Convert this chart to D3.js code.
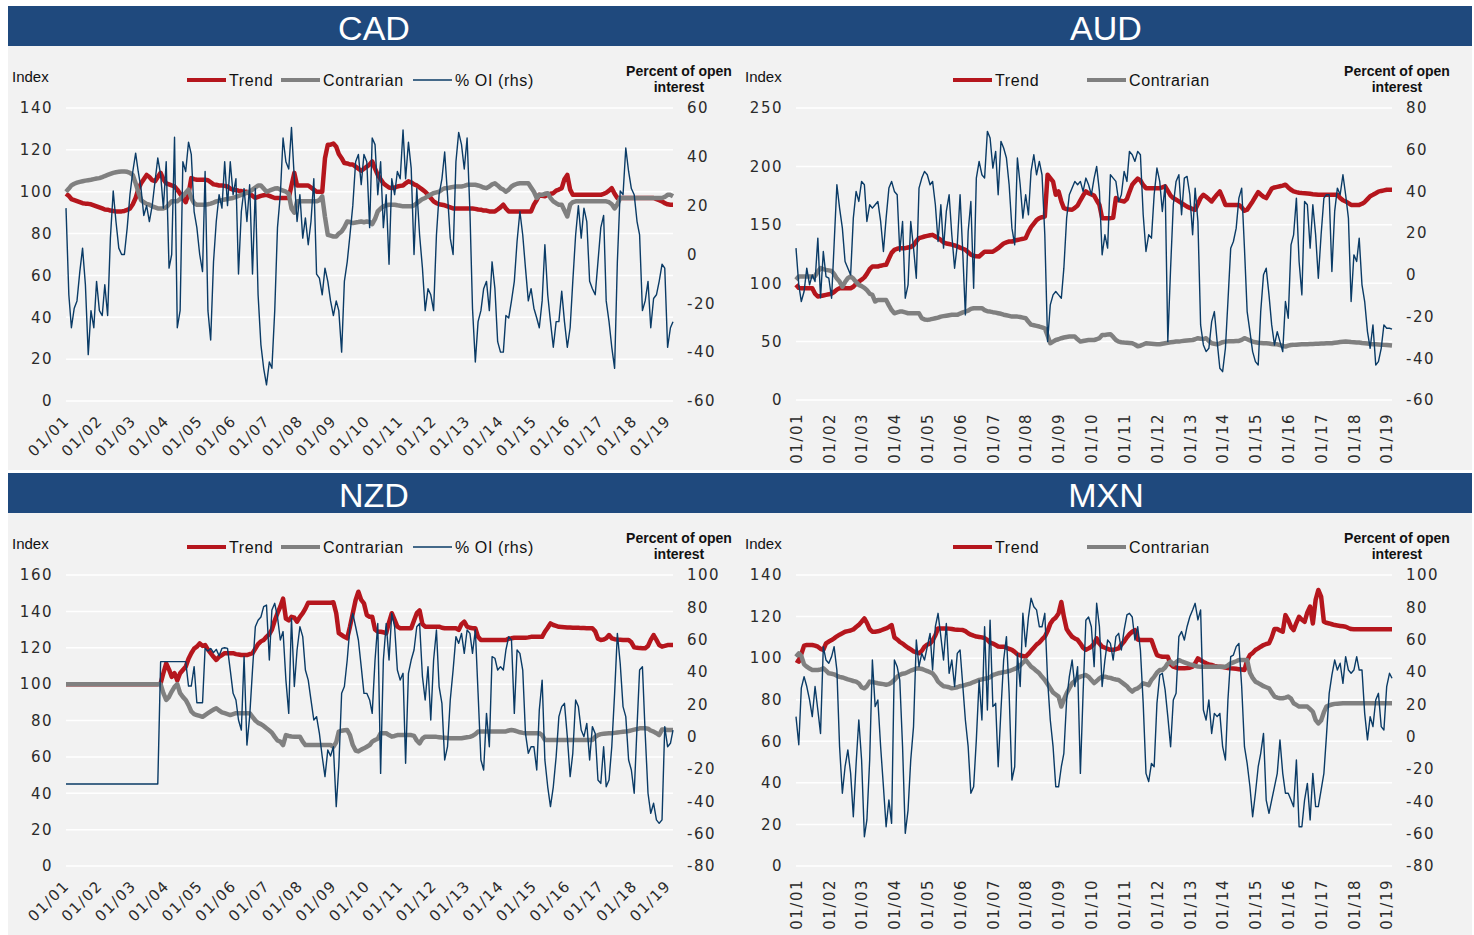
<!DOCTYPE html>
<html>
<head>
<meta charset="utf-8">
<script src="https://cdn.jsdelivr.net/npm/d3@7"></script>
<style>
  html, body { margin: 0; padding: 0; background: #ffffff; }
  svg { display: block; }
  text { font-family: "Liberation Sans", Arial, sans-serif; }
  .tick-label { font-family: "DejaVu Sans", sans-serif; font-size: 15px; fill: #2b2b2b; letter-spacing: 1.5px; }
</style>
</head>
<body>
<svg id="chart" width="1474" height="935"></svg>
<script>
// Monthly observations, January 2001 to March 2019
const START = new Date(2001, 0, 1);
const END = new Date(2019, 2, 1);
const tickYears = [2001, 2002, 2003, 2004, 2005, 2006, 2007, 2008, 2009, 2010,
                   2011, 2012, 2013, 2014, 2015, 2016, 2017, 2018, 2019];

const seriesNames = ["Trend", "Contrarian", "% OI (rhs)"];

// ---------------- CAD ----------------
const cadTrend = [
  99, 98, 96.5, 96, 95.5, 95, 94.5, 94.3, 94.2, 94, 93.5, 93,
  92.5, 92, 91.5, 91.4, 91, 90.8, 90.6, 90.6, 90.6, 90.8, 91.3, 92,
  94, 97, 101, 104, 106, 108, 107, 105.5, 105, 107, 109, 106,
  104, 103.5, 103, 102.5, 101, 99, 97, 95, 99, 106.5, 106, 105.7,
  105.7, 105.7, 105.7, 105.5, 104.5, 103.5, 103.3, 103, 103, 102.8, 102.5, 101.5,
  101, 100.8, 100.5, 100.3, 100, 100, 99, 98, 97, 97.5, 98, 98.3,
  98.5, 98, 97.5, 97, 97, 97, 97, 97, 97, 103, 109, 103,
  103, 103, 103, 103, 102, 101, 100, 100, 100, 116, 122.5, 122.5,
  123, 121.5, 118, 116, 113.7, 113.5, 113, 113, 112, 111, 110, 111,
  112, 113, 114.5, 111, 108, 106, 104, 103, 102, 101.7, 102, 102.5,
  102.8, 103, 104, 105, 104.5, 103.5, 103, 102, 101, 100, 98.5, 97,
  95.4, 94.5, 94, 93.8, 93.5, 93, 92.5, 92, 92, 92, 92, 92,
  92, 92, 92, 91.8, 91.5, 91.4, 91, 91, 90.6, 90.6, 90.6, 91.5,
  92.5, 93.8, 92, 90.6, 90.6, 90.6, 90.6, 90.6, 90.6, 90.6, 90.6, 90.6,
  93.8, 96, 98.5, 98, 97.8, 98.5, 99, 99.3, 100.5, 101, 101.7, 106,
  108, 101, 98.5, 98.5, 98.5, 98.5, 98.5, 98.5, 98.5, 98.5, 98.5, 98.5,
  98.5, 99, 99.5, 100.5, 101.7, 99, 97, 97, 97, 97, 97, 97,
  97, 97, 97, 97, 97, 97, 97, 97, 96.5, 96, 95.4, 94.5,
  94, 93.8, 93.8
];
const cadContrarian = [
  100, 101.5, 103, 103.8, 104.3, 104.7, 105, 105.3, 105.5, 105.7, 106, 106.3,
  106.5, 107, 107.5, 108, 108.5, 109, 109.3, 109.5, 109.7, 109.7, 109.5, 109,
  108, 104, 100, 96, 95, 94.2, 93.8, 93, 92.5, 92, 92, 92,
  92.5, 94, 95.4, 95.4, 95.4, 96.5, 98, 99.5, 101, 97, 94.5, 93.8,
  93.8, 93.8, 93.8, 94, 94.3, 94.8, 95.4, 95.7, 96, 96.3, 96.5, 96.8,
  97, 97.5, 98, 98.5, 99, 99.5, 100, 101, 102, 103, 103, 101.5,
  100, 100.5, 101, 101.5, 101.7, 101, 100.5, 100, 99, 92, 90, 95.4,
  95.4, 95.4, 95.4, 95.4, 95.4, 95.4, 95.4, 96, 97.8, 88, 79.4, 79,
  78.6, 78.6, 80, 81, 83, 85.8, 85.5, 85, 85.3, 85.5, 85.8, 85.4,
  85.8, 85.5, 84.5, 87, 90.6, 92, 93, 93.5, 93.8, 93.8, 93.8, 93.5,
  93.3, 93, 93, 93, 93, 93.5, 94.5, 95.5, 96.5, 97, 98, 98.7,
  99.3, 99.7, 100, 101, 101.7, 101.7, 102, 102.3, 102.5, 102.5, 102.5, 102.8,
  103.3, 103.3, 103.3, 103.3, 103, 102.5, 102, 101.7, 102.5, 103.5, 104, 103,
  101.7, 101, 100, 101, 102.5, 103.3, 103.8, 104, 104, 104, 104, 102,
  100, 97, 98.5, 98.5, 99, 99.3, 97, 95.4, 94.5, 93.8, 93.8, 91,
  88.2, 93.8, 95, 95.4, 95.4, 95.4, 95.4, 95.4, 95.4, 95.4, 95.4, 95.4,
  95.4, 95.4, 95.4, 95, 94, 92, 94, 97, 97, 97, 97, 97,
  97, 97, 97, 97, 97, 97, 97, 97, 97, 97, 97, 97.5,
  98.5, 98.5, 97.8
];
const cadOI = [
  19, -16.5, -30, -22, -19, -7, 2.6, -12.4, -41, -23, -30, -11,
  -23, -25, -12.4, -25, 6.7, 26, 13.5, 2.6, 0, 0, 11, 24.5,
  34, 41.5, 34, 27, 16, 20, 13.5, 20, 30, 39.5, 32.7, 19,
  38, -5.6, 0, 48, -30, -23, 38, 34, 46, 41, 17.6, 11,
  0, -7, 34, -23, -35, -3, 13.5, 24.5, 19, 38, 20, 38,
  24.5, 31, -8, 17.6, 27, 13.5, 28.6, -8, 27, -16.5, -37, -46.6,
  -53.4, -44, -46.6, -23, 11, 24.5, 47.7, 38, 35, 52, 31, 13.5,
  24.5, 6.7, 15, 4, 13.5, 31, -8, -9.7, -16.5, -5.6, -11, -19,
  -25, -19, -23, -40, -11, -3, 8, 20, 38, 41, 28.6, 41,
  38, 11, 47.7, 45, 24.5, 38, 11, 24.5, -4, 31, 24.5, 34,
  31, 51, 31, 46, 35.4, 0, 27, 8, -5.6, -23, -14, -16.5,
  -23, 8, 24.5, 31, 42, 24.5, 6.7, 0, 38, 50, 45, 35,
  47.7, 17.6, -22, -44, -27.5, -23, -14, -11, -23, -3, -14, -35.7,
  -40, -40, -25, -26, -19, -11, 5.3, 17.6, 8, -5.6, -19, -14,
  -22, -26, -30, -19, 4, -16.5, -27.5, -38, -27.5, -27.5, -15, -27.5,
  -38, -30, -11, 8, 20, 6.7, 19, 13.5, -11, -14, -16.5, -3,
  11, 16, -19, -27.5, -38, -46.6, -3, 26, 24.5, 43.6, 34, 27,
  24.5, 13.5, 8, -23, -19, -11, -30, -18, -16.5, -11, -4, -5.6,
  -38, -30, -27.5
];

// ---------------- AUD ----------------
const audTrend = [
  98.6, 96, 95.7, 95.7, 95.7, 95.7, 95.7, 91, 88.6, 89, 89.5, 90,
  90.5, 91.2, 92.5, 94.5, 95.7, 95.7, 95.7, 95.7, 95.7, 97, 99.5, 101.4,
  103, 105, 108, 112, 114.3, 114.3, 114.3, 115, 115.5, 115.7, 121, 126,
  128.5, 129.5, 130, 130, 130, 130.5, 131, 132.5, 136, 138.6, 139.3, 140,
  140.5, 141, 141.4, 140, 138.6, 137, 135, 134, 133.5, 133, 132.3, 131.5,
  130.5, 129.5, 128.6, 126.5, 124.5, 123.5, 123, 122.9, 125, 127, 127, 127,
  127, 128.5, 130, 132, 134, 135, 135.7, 135.7, 136.5, 137, 137.5, 138,
  138.6, 144, 148, 151, 154, 155.7, 156.5, 157, 192.9, 190, 187, 175.7,
  178.6, 170, 164.3, 163.5, 163, 162.9, 164.5, 166.5, 171, 175, 178.6, 177,
  176, 175, 171, 167, 155.7, 155.7, 155.7, 155.7, 156, 172.9, 171, 170.5,
  170, 172, 178, 184.3, 187, 189.5, 188, 184, 181.4, 181.4, 181.4, 181.4,
  181.4, 181.4, 182, 182.9, 179, 175, 172.9, 171.5, 170, 168.5, 167, 165.5,
  164.5, 163.5, 162.9, 168, 173, 175.7, 174, 172, 170, 173, 176, 178.6,
  173, 167, 167, 167, 167, 167, 167, 165, 162, 163, 166.5, 170,
  174, 178, 176, 174, 172.9, 177, 181, 182, 182.5, 183, 183.5, 184.3,
  182, 180, 178.6, 178, 177.5, 177.2, 177, 176.8, 176.5, 176.2, 176, 175.7,
  175.7, 175.7, 175.7, 175.7, 175.7, 175.7, 175.7, 173, 171, 170, 168.5, 167,
  167, 167, 167, 168, 169.5, 172, 174.5, 175.7, 177, 178.4, 179, 179.5,
  180, 180, 180
];
const audContrarian = [
  102.9, 105.7, 105.7, 105.7, 105.7, 105.7, 105.7, 106, 110, 112.9, 112, 111.4,
  111, 110.5, 108, 104, 101.4, 97, 101, 104.3, 105.7, 104, 101, 98.6,
  97.5, 96, 94, 91, 90, 84.3, 85.7, 85.7, 85.7, 85.7, 81, 77,
  74.3, 75, 75.7, 75.7, 75, 74.3, 74.3, 74.3, 74.3, 74.3, 70, 69,
  68.6, 69, 69.5, 70, 70.5, 71.4, 71.8, 72.2, 72.6, 72.9, 72.9, 72.9,
  74, 75, 75.7, 76.5, 78, 78.6, 78.6, 78.6, 78.6, 77, 76, 75.7,
  75.2, 74.8, 74.3, 73.8, 73, 72.5, 72, 71.4, 71.4, 71.4, 71, 70.5,
  70, 67, 64.5, 64, 63.5, 62.9, 62.2, 61.4, 55, 48.6, 50, 51.4,
  52, 52.9, 53.5, 54, 54.3, 54.3, 54.3, 52, 50, 50.5, 51, 51.4,
  51.4, 51.4, 52, 53, 55.7, 55.7, 56, 56.3, 54, 51.4, 50, 49.5,
  49.2, 49, 48.8, 48.6, 47.5, 46, 46.5, 47.5, 48.6, 48.4, 48.2, 48,
  47.8, 47.7, 48.2, 48.6, 49, 49.4, 49.7, 50, 50, 50.4, 50.7, 51,
  51.2, 51.4, 52, 52.9, 52.5, 52.2, 52.9, 50.5, 48.6, 48.2, 47.7, 48.5,
  49.5, 50, 50.2, 50.3, 50.4, 50.5, 50.6, 51.5, 52.9, 52, 51, 50,
  49.5, 49, 48.8, 48.6, 48.5, 48.3, 48, 47.8, 47.7, 47, 46.3, 45.7,
  46.5, 47.1, 47.2, 47.4, 47.6, 47.7, 47.7, 47.8, 47.9, 48, 48.1, 48.2,
  48.3, 48.4, 48.5, 48.6, 48.6, 49, 49.3, 49.6, 49.8, 50, 49.8, 49.6,
  49.5, 49.3, 49.2, 48.8, 48.6, 48.3, 48, 47.8, 47.7, 47.6, 47.4, 47.2,
  47, 46.8, 46.6
];
const audOI = [
  12.8, -4.8, -12.8, -8, 3.2, -4.8, 0, -3.2, 17.6, -11, 11.2, -0.8,
  -1.6, -11.2, 14.4, 43.2, 32, 22.4, 6.4, 3.2, 0, 27.2, 40, 35.2,
  44.8, 43.2, 25.6, 33.6, 32, 33.6, 35.2, 25.6, 11.2, 27.2, 41.6, 44.8,
  40, 38.4, 11.2, 25.6, -11.2, -4.8, 25.6, 12.8, -1.6, 41.6, 46.4, 49.6,
  48, 43.2, 44.8, 33.6, 16, 33.6, 12.8, 30.4, 38.4, 19.2, 3.2, 14.4,
  38.4, 9.6, -19.2, 20.8, 35.2, -6.4, 46.4, 54.4, 48, 46.4, 68.8, 65.6,
  51.2, 59.2, 38.4, 64, 60.8, 56, 43.2, 22.4, 14.4, 56, 43.2, 27.2,
  38.4, 28.8, 49.6, 57.6, 48, 54.4, 48, 19.2, -32, -14.4, -9.6, -8,
  -9.6, -11.2, 3.2, 27.2, 38.4, 41.6, 44.8, 43.2, 44.8, 40, 46.4, 43.2,
  38.4, 46.4, 52, 40, 9.6, 19.2, 12.8, 48, 46.4, 44.8, 35.2, 38.4,
  49.6, 44.8, 59.2, 57.6, 54.4, 59.2, 57.6, 28.8, 11.2, 19.2, 17.6, 38.4,
  51.2, 44.8, 30.4, 43.2, -32, 3.2, 33.6, 44.8, 48, 28.8, 46.4, 47.2,
  38.4, 19.2, 41.6, 25.6, -24, -33.6, -36.8, -35.2, -22.4, -17.6, -32, -44.8,
  -46.4, -35.2, -12.8, 12.8, 16, 22.4, 36.8, 41.6, 12.8, -17.6, -27.2, -36.8,
  -41.6, -43.2, -17.6, 0, 3.2, -9.6, -24, -33.6, -27.2, -32, -36.8, -12.8,
  -20.8, 14.4, 19.2, 36.8, 6.4, -9.6, 35.2, 33.6, 12.8, 33.6, 19.2, -1.6,
  19.2, 36.8, 38.4, 38.4, 1.6, 30.4, 41.6, 38.4, 48, 38.4, 27.2, -12.8,
  9.6, 6.4, 17.6, -4.8, -12.8, -27.2, -35.2, -24, -43.2, -41.6, -35.2, -24,
  -25.6, -25.6, -26
];

// ---------------- NZD ----------------
const nzdTrend = [
  100, 100, 100, 100, 100, 100, 100, 100, 100, 100, 100, 100,
  100, 100, 100, 100, 100, 100, 100, 100, 100, 100, 100, 100,
  100, 100, 100, 100, 100, 100, 100, 100, 100, 100, 100.4, 106,
  111.4, 108, 104, 106, 102, 106, 107.8, 109.6, 114, 117, 119.5, 120.6,
  122.4, 121, 121.5, 119, 117, 115, 113.3, 115, 116, 117, 117, 117,
  117, 116.5, 116.3, 116, 116, 116, 116.5, 117, 119.5, 122, 123.5, 124.3,
  126, 127.5, 130, 135, 139, 142.6, 147, 136, 135, 137, 136.5, 134.3,
  137, 139, 141.5, 144.8, 144.8, 144.8, 144.8, 144.8, 144.8, 144.8, 144.8, 144.8,
  145, 139, 128, 127, 126, 125.2, 131.6, 139, 146.3, 150.8, 146.3, 144.4,
  138, 137, 137, 130, 128.8, 128.8, 128.5, 128, 134, 139, 135.3, 131.6,
  130.7, 130.7, 130.7, 130.7, 130.7, 135, 139, 140.5, 133, 131.6, 131.6, 131.6,
  131.6, 131.6, 131.6, 131, 130.7, 130.7, 130.7, 130.7, 130.7, 129.8, 133, 134.3,
  131.6, 131, 130.7, 130.7, 126, 124.3, 124.3, 124.3, 124.3, 124.3, 124.3, 124.3,
  124.3, 124.3, 124.3, 125, 125.2, 125.5, 125.5, 125.5, 125.5, 125.5, 125.7, 126,
  126, 126, 126, 126, 128.8, 131, 133.4, 132.5, 132, 131.5, 131.4, 131.3,
  131.2, 131.1, 131, 131, 131, 130.8, 130.8, 130.7, 130.7, 130.7, 129, 125,
  124.3, 124.5, 125.2, 127, 125.2, 124.7, 124.5, 124.4, 124.3, 124.3, 124.3, 123,
  120.2, 120, 119.8, 119.7, 119.7, 121, 124.3, 127, 124.3, 121.5, 120.6, 121,
  121.5, 121.5, 121.5
];
const nzdContrarian = [
  100, 100, 100, 100, 100, 100, 100, 100, 100, 100, 100, 100,
  100, 100, 100, 100, 100, 100, 100, 100, 100, 100, 100, 100,
  100, 100, 100, 100, 100, 100, 100, 100, 100, 100, 100, 95,
  91.3, 93, 95.9, 98.5, 100, 95, 93, 91.3, 88.5, 85, 83.5, 83,
  82.5, 82, 83, 84, 85, 86, 86.7, 85.5, 84.5, 84, 83.5, 83,
  83.5, 84, 84, 84, 84, 84, 84, 82, 80, 78.7, 78, 77,
  75.7, 74.5, 73.3, 71, 69, 68.4, 66.5, 72, 71.5, 71.2, 71.1, 71.1,
  71.1, 68.4, 66.5, 66.5, 66.5, 66.5, 66.5, 66.5, 66.5, 66.5, 66.5, 66.5,
  65.6, 68, 73.9, 74.4, 74.6, 74.8, 72, 66.5, 63.5, 63, 64, 64.7,
  65.6, 66.5, 68.4, 69.3, 70, 73, 73, 73, 72, 71.1, 71.5, 72,
  72, 72, 72, 72, 72, 71.5, 69, 67.4, 70, 71.1, 71, 71,
  71, 71, 70.8, 70.6, 70.5, 70.4, 70.3, 70.2, 70.2, 70.2, 70.2, 70.5,
  70.8, 71, 71.5, 72.5, 73.9, 73.9, 73.9, 73.9, 73.9, 73.9, 73.9, 73.9,
  73.9, 73.9, 74, 74.5, 74.8, 74.5, 74, 73.5, 73.2, 73, 73, 73,
  73, 73, 73, 72, 69.3, 69.3, 69.3, 69.3, 69.3, 69.3, 69.3, 69.3,
  69.3, 69.3, 69.3, 69.3, 69.3, 69.3, 69.3, 69.3, 69.3, 69.3, 71, 72,
  72.5, 72.7, 72.9, 73, 73, 73.2, 73.4, 73.6, 73.8, 73.9, 74.2, 74.6,
  75, 75.3, 75.7, 75.7, 75.7, 75.5, 74.5, 73.9, 73, 72, 75, 75,
  74.8, 74.8, 74.8
];
const nzdOI = [
  -29.3, -29.3, -29.3, -29.3, -29.3, -29.3, -29.3, -29.3, -29.3, -29.3, -29.3, -29.3,
  -29.3, -29.3, -29.3, -29.3, -29.3, -29.3, -29.3, -29.3, -29.3, -29.3, -29.3, -29.3,
  -29.3, -29.3, -29.3, -29.3, -29.3, -29.3, -29.3, -29.3, -29.3, -29.3, 46.4, 46.4,
  46.4, 46.4, 46.4, 46.4, 46.4, 46.4, 46.4, 46.4, 31.3, 31.3, 43.3, 21,
  21, 21, 54.6, 53, 54.6, 52, 54, 50, 54.6, 55, 54.6, 41.2,
  26.8, 22.7, 10.3, 4.1, 49.5, -5.2, 12.4, 41.2, 68, 72, 74, 80.4,
  81.4, 47.4, 78.4, 82.5, 74, 59.8, 65, 35, 14.4, 73.2, 31, 53.6,
  68, 61.9, 41.2, 35, 22.7, 10.3, 12.4, 2, -12.4, -24.7, -8.2, -12,
  -6.2, -43.3, -18.6, 26.8, 31, 47.4, 68, 76.3, 68, 59.8, 43.3, 26.8,
  26.8, 22.7, 14.4, 47.4, 70, -22.7, 47.4, 70, 47.4, 76.3, 68, 41.2,
  35, 39.2, -16.5, 39.2, 47.4, 53.6, 68, 70, 37.1, 22.7, 43.3, 10.3,
  47.4, 66, 31, 20.6, -14.4, -6.2, 22.7, 41.2, 61.9, 57.7, 63.9, 51.5,
  66, 63.9, 51.5, 66, 26.8, -14.4, -20.6, 14.4, -6.2, 49.5, 48.5, 41.2,
  43.3, 41.2, 53.6, 61.9, 59.8, 14.4, 53.6, 51.5, 41.2, 2, -10.3, -6.2,
  -6.2, -20.6, 16.5, 35, -14.4, -31, -43.3, -31, -12.4, 12.4, 18.6, 20.6,
  0, -24.7, -10.3, 22.7, 18.6, 4.1, 0, 8.2, -14.4, 6.2, 2, -26.8,
  -28.9, -6.2, -31, -26.8, -6.2, 26.8, 63.9, 45.4, 18.6, 12.4, -14.4, -20.6,
  -35, 6.2, 41.2, 43.3, 2, -35, -47.4, -41.2, -51.5, -53.6, -51.5, 6.2,
  -6.2, -4.1, 4.1
];

// ---------------- MXN ----------------
const mxnTrend = [
  99.1, 98.3, 102, 106, 106.3, 106.3, 106.3, 106, 105.5, 104.5, 104, 107.1,
  108, 108.7, 109.5, 110.5, 111.3, 112, 112.7, 113, 113.3, 113.8, 115, 116,
  117.5, 119.1, 117, 114, 112.7, 112.7, 112.9, 113.3, 113.8, 114.3, 115, 115.9,
  110, 109, 107.8, 107, 106, 105, 104.2, 103.3, 102.8, 102.4, 103.5, 105.5,
  106.5, 107, 108.5, 111, 114.3, 114.3, 114.3, 114.3, 114.2, 114, 113.8, 113.7,
  113.6, 113.5, 113, 112, 111.3, 110.8, 110.4, 110.2, 110, 109.6, 108.8, 107.5,
  107, 106.3, 105.6, 105.5, 105.5, 105, 104.5, 104, 103, 101.8, 101.4, 101,
  100.7, 102, 103.5, 105, 106.5, 107.5, 109, 110.3, 113, 116.5, 118.5, 119.5,
  121.5, 127, 120, 114, 112, 110.3, 109.5, 108.8, 107, 105, 104, 104.7,
  105.5, 107, 109.5, 107, 105.5, 105, 104.5, 104, 104, 104.3, 104.7, 106.5,
  108, 110, 111.5, 112.7, 113.5, 109, 108.7, 108.7, 108.7, 108.7, 108.7, 105,
  101.5, 101, 100.7, 100.7, 100.7, 97, 95.9, 95.5, 95.1, 95.1, 95.1, 95.2,
  95.4, 95.9, 97.5, 99.9, 99, 98.2, 97.5, 97, 96.7, 96.3, 96, 95.9,
  95.7, 95.5, 95.3, 95.1, 95, 94.9, 94.7, 94.5, 94.3, 99, 101.5, 102.5,
  103.9, 104.7, 105.5, 106.3, 106.8, 107.1, 110, 114, 114, 113.3, 112.7, 120.7,
  118.3, 115, 113.5, 117, 119.9, 118.5, 117.5, 122, 124.8, 116.7, 128, 132.8,
  129.6, 117.5, 117, 116.7, 116.3, 115.9, 115.7, 115.5, 115.3, 115.1, 114.5, 114,
  113.9, 113.9, 113.9, 113.9, 113.9, 113.9, 113.9, 113.9, 113.9, 113.9, 113.9, 113.9,
  113.9, 113.9, 113.9
];
const mxnContrarian = [
  100.7, 102.3, 101, 97, 95.9, 95, 94.3, 94.3, 94.3, 94.5, 95.1, 94,
  92.7, 92.5, 92.2, 91.5, 91, 90.7, 90.3, 89.8, 89.4, 89, 88.7, 87.9,
  86, 85.5, 86.5, 88.7, 88.5, 88.2, 87.9, 87.7, 87.5, 87.2, 87.5, 88.3,
  89.5, 91, 92, 92.5, 92.7, 93.3, 94, 94.5, 95, 95.1, 94.8, 94.3,
  93.8, 93.2, 92.7, 91, 88.7, 87.5, 86.5, 86.3, 86, 85.5, 85.7, 86,
  86.5, 86.8, 87.1, 87.5, 87.9, 88.5, 89, 89.5, 89.8, 90.1, 90.3, 90.8,
  91.9, 92.3, 92.7, 93, 93.3, 93.5, 93.8, 94.3, 94.8, 95.5, 96.5, 97.8,
  99.1, 97.5, 95.9, 95, 93.8, 92.7, 91, 89.5, 87.5, 85.5, 83.5, 82.5,
  81.5, 76.7, 80, 83.1, 85.5, 87.9, 89, 90.5, 91.1, 91.5, 91.9, 91,
  89.5, 88, 89, 90.3, 91.1, 91.1, 90.7, 90.5, 90, 89.7, 89.5, 88.5,
  87.5, 86.5, 85, 83.9, 85, 85.5, 86.5, 87.9, 87.5, 87, 89.5, 91,
  93, 94.3, 94.3, 95.5, 97.5, 98.3, 97, 98, 99.1, 98.5, 98, 97.5,
  97, 96.7, 96.3, 96, 95.9, 95.9, 95.9, 95.9, 95.9, 95.9, 95.9, 95.9,
  95.9, 95.9, 96.5, 97.5, 98, 98.5, 99.1, 99.1, 99.1, 99.1, 93, 90.5,
  88.7, 88, 87.3, 86.5, 86, 85.5, 83.5, 81.5, 81, 80.7, 80.7, 81,
  81.5, 80.5, 78.3, 77.5, 76.7, 76.7, 76.7, 76.7, 75.5, 74.2, 70.2, 68.6,
  70, 74, 76.7, 77.3, 77.7, 78, 78.1, 78.2, 78.3, 78.3, 78.3, 78.3,
  78.3, 78.3, 78.3, 78.3, 78.3, 78.3, 78.3, 78.3, 78.3, 78.3, 78.3, 78.3,
  78.3, 78.3, 78.3
];
const mxnOI = [
  12.4, -5, 30, 37.1, 31, 22.7, 12.4, 31, 16.5, 2, 55.7, 47.4,
  45.4, 49.5, 55.7, 41.2, -6.2, -35, -18.6, -8.2, -22.7, -49.5, -16.7, 10.3,
  -14.4, -61.9, -51.5, -14.4, 47.4, 18.6, 22.7, -6.2, -31, -55.7, -39.2, -53.6,
  47.4, 43.3, 35, -6.2, -59.8, -45.4, -14.4, 6.2, 59.8, 43.3, 51.5, 47.4,
  55.7, 63.9, 41.2, 68, 76.3, 61.9, 47.4, 70, 39.2, 47.4, 31, 51.5,
  53.6, 31, 10.3, -6.2, -35, -31, -2, 35, 10.3, 68, 16.5, 72,
  18.6, 20.6, -18.6, 16.5, 47.4, 61.9, 26.8, -26.8, -18.6, 51.5, 31, 76.3,
  55.7, 74, 85.6, 80.4, 78.4, 68, 68, 76.3, 35, 10.3, -6.2, -31,
  -31, -18.6, -10.3, 22.7, 37.1, 47.4, 31, 43.3, -22.7, 26.8, 72, 74,
  68, 43.3, 82.5, 68, 31, 47.4, 59.8, 57.7, 47.4, 61.9, 63.9, 53.6,
  66, 75.3, 76.3, 74, 59.8, 68, 53.6, 20.6, -22.7, -27.8, -16.5, -18.6,
  20.6, 38.1, 39.2, 28.9, 12.4, -6.2, 22.7, 26.8, 61.9, 65, 59.8, 68,
  74.2, 78.4, 82.5, 72.2, 78.4, 16.5, 10.3, 22.7, 2, 14.4, 12.4, 14.4,
  -6.2, -14.4, 22.7, 49.5, 50.5, 55.7, 57.7, 31, -6.2, -16.5, -31, -49.5,
  -35, -18.6, -10.3, 2, -39.2, -47.4, -39.2, -31, -22.7, -2, -22.7, -35,
  -35, -39.2, -43.3, -14.4, -55.7, -55.7, -39.2, -28.9, -51.5, -22.7, -43.3, -43.3,
  -33, -22.7, 0, 26.8, 38.1, 47.4, 41.2, 45.4, 33, 49.5, 41.2, 39.2,
  41.2, 49.5, 41.2, 41.2, 14.4, -2, 12.4, 6.2, 22.7, 26.8, 6.2, 4.1,
  31, 39.2, 36.1
];

// ---------------- layout ----------------
const COLORS = { trend: "#b5161d", contrarian: "#808080", oi: "#0a3b66", header: "#1f497d", panel: "#f2f2f2" };

const panels = [
  { title: "CAD", trend: cadTrend, contrarian: cadContrarian, oi: cadOI,
    left: 66, right: 673, top: 108, bottom: 401, yLeft: [0, 140], leftStep: 20, yRight: [-60, 60], rightStep: 20,
    rotate: -45, legend: [187, 281, 413], legendY: 80, titleX: 374, titleY: 40, indexX: 12, indexY: 82, rhsX: 679, rhsY: 76 },
  { title: "AUD", trend: audTrend, contrarian: audContrarian, oi: audOI,
    left: 796, right: 1392, top: 108, bottom: 400, yLeft: [0, 250], leftStep: 50, yRight: [-60, 80], rightStep: 20,
    rotate: -90, legend: [953, 1087], legendY: 80, titleX: 1106, titleY: 40, indexX: 745, indexY: 82, rhsX: 1397, rhsY: 76 },
  { title: "NZD", trend: nzdTrend, contrarian: nzdContrarian, oi: nzdOI,
    left: 66, right: 673, top: 575, bottom: 866, yLeft: [0, 160], leftStep: 20, yRight: [-80, 100], rightStep: 20,
    rotate: -45, legend: [187, 281, 413], legendY: 547, titleX: 374, titleY: 507, indexX: 12, indexY: 549, rhsX: 679, rhsY: 543 },
  { title: "MXN", trend: mxnTrend, contrarian: mxnContrarian, oi: mxnOI,
    left: 796, right: 1392, top: 575, bottom: 866, yLeft: [0, 140], leftStep: 20, yRight: [-80, 100], rightStep: 20,
    rotate: -90, legend: [953, 1087], legendY: 547, titleX: 1106, titleY: 507, indexX: 745, indexY: 549, rhsX: 1397, rhsY: 543 }
];

const svg = d3.select("#chart");

// Backgrounds and title bars for both rows
svg.append("rect").attr("x", 8).attr("y", 46).attr("width", 1464).attr("height", 424).attr("fill", COLORS.panel);
svg.append("rect").attr("x", 8).attr("y", 513).attr("width", 1464).attr("height", 422).attr("fill", COLORS.panel);
svg.append("rect").attr("x", 8).attr("y", 6).attr("width", 1464).attr("height", 40).attr("fill", COLORS.header);
svg.append("rect").attr("x", 8).attr("y", 473).attr("width", 1464).attr("height", 40).attr("fill", COLORS.header);

const monthDate = i => d3.timeMonth.offset(START, i);
const tickDates = tickYears.map(y => new Date(y, 0, 1));

panels.forEach(p => {
  [p.trend, p.contrarian, p.oi].forEach(a => {
    if (a.length !== 219) throw new Error(p.title + " series length " + a.length);
  });

  const g = svg.append("g");
  const x = d3.scaleTime().domain([START, END]).range([p.left, p.right]);
  const yL = d3.scaleLinear().domain(p.yLeft).range([p.bottom, p.top]);
  const yR = d3.scaleLinear().domain(p.yRight).range([p.bottom, p.top]);
  const leftTicks = d3.range(p.yLeft[0], p.yLeft[1] + 0.001, p.leftStep);
  const rightTicks = d3.range(p.yRight[0], p.yRight[1] + 0.001, p.rightStep);

  // Title
  g.append("text").attr("x", p.titleX).attr("y", p.titleY).attr("text-anchor", "middle")
    .attr("fill", "#ffffff").attr("font-size", 34).text(p.title);

  // Gridlines on the left-axis ticks
  g.append("g").selectAll("line").data(leftTicks).join("line")
    .attr("x1", p.left).attr("x2", p.right)
    .attr("y1", d => yL(d)).attr("y2", d => yL(d))
    .attr("stroke", "#ffffff").attr("stroke-width", 1.5);

  // Left axis
  const axL = g.append("g").attr("transform", `translate(${p.left - 13},0)`)
    .call(d3.axisLeft(yL).tickValues(leftTicks).tickSize(0).tickPadding(0).tickFormat(d => String(d)));
  axL.select(".domain").remove();
  axL.selectAll("text").attr("class", "tick-label").attr("font-family", null).attr("font-size", null).attr("fill", null);

  // Right axis
  const axR = g.append("g").attr("transform", `translate(${p.right + 14},0)`)
    .call(d3.axisRight(yR).tickValues(rightTicks).tickSize(0).tickPadding(0).tickFormat(d => String(d)));
  axR.select(".domain").remove();
  axR.selectAll("text").attr("class", "tick-label").attr("font-family", null).attr("font-size", null).attr("fill", null);

  // Bottom axis with rotated date labels
  const axB = g.append("g").attr("transform", `translate(0,${p.bottom})`)
    .call(d3.axisBottom(x).tickValues(tickDates).tickSize(0).tickFormat(d3.timeFormat("%m/%y")));
  axB.select(".domain").remove();
  axB.selectAll("text").attr("class", "tick-label").attr("font-family", null).attr("font-size", null).attr("fill", null)
    .attr("x", 0).attr("y", 0).attr("dy", "0.35em").attr("text-anchor", "end")
    .attr("transform", p.rotate === -45 ? "translate(0,17) rotate(-45)" : "translate(0,13) rotate(-90)");

  // Series: trend, contrarian, then open interest on top
  const lineL = d3.line().x((d, i) => x(monthDate(i))).y(d => yL(d));
  const lineR = d3.line().x((d, i) => x(monthDate(i))).y(d => yR(d));
  g.append("path").datum(p.trend).attr("d", lineL).attr("fill", "none")
    .attr("stroke", COLORS.trend).attr("stroke-width", 4.5).attr("stroke-linejoin", "round");
  g.append("path").datum(p.contrarian).attr("d", lineL).attr("fill", "none")
    .attr("stroke", COLORS.contrarian).attr("stroke-width", 4.5).attr("stroke-linejoin", "round");
  g.append("path").datum(p.oi).attr("d", lineR).attr("fill", "none")
    .attr("stroke", COLORS.oi).attr("stroke-width", 1.4).attr("stroke-linejoin", "round");

  // Axis captions
  g.append("text").attr("x", p.indexX).attr("y", p.indexY).attr("font-size", 15).attr("fill", "#111").text("Index");
  g.append("text").attr("x", p.rhsX).attr("y", p.rhsY).attr("text-anchor", "middle")
    .attr("font-size", 14).attr("font-weight", "bold").attr("fill", "#111").text("Percent of open");
  g.append("text").attr("x", p.rhsX).attr("y", p.rhsY + 16).attr("text-anchor", "middle")
    .attr("font-size", 14).attr("font-weight", "bold").attr("fill", "#111").text("interest");

  // Legend
  const items = [
    { name: seriesNames[0], color: COLORS.trend, w: 4 },
    { name: seriesNames[1], color: COLORS.contrarian, w: 4 },
    { name: seriesNames[2], color: COLORS.oi, w: 1.4 }
  ].slice(0, p.legend.length);
  items.forEach((it, k) => {
    const lx = p.legend[k];
    g.append("line").attr("x1", lx).attr("x2", lx + 39).attr("y1", p.legendY).attr("y2", p.legendY)
      .attr("stroke", it.color).attr("stroke-width", it.w);
    g.append("text").attr("x", lx + 42).attr("y", p.legendY + 5.5).attr("font-size", 16)
      .attr("letter-spacing", 0.6).attr("fill", "#111").text(it.name);
  });
});
</script>
</body>
</html>
